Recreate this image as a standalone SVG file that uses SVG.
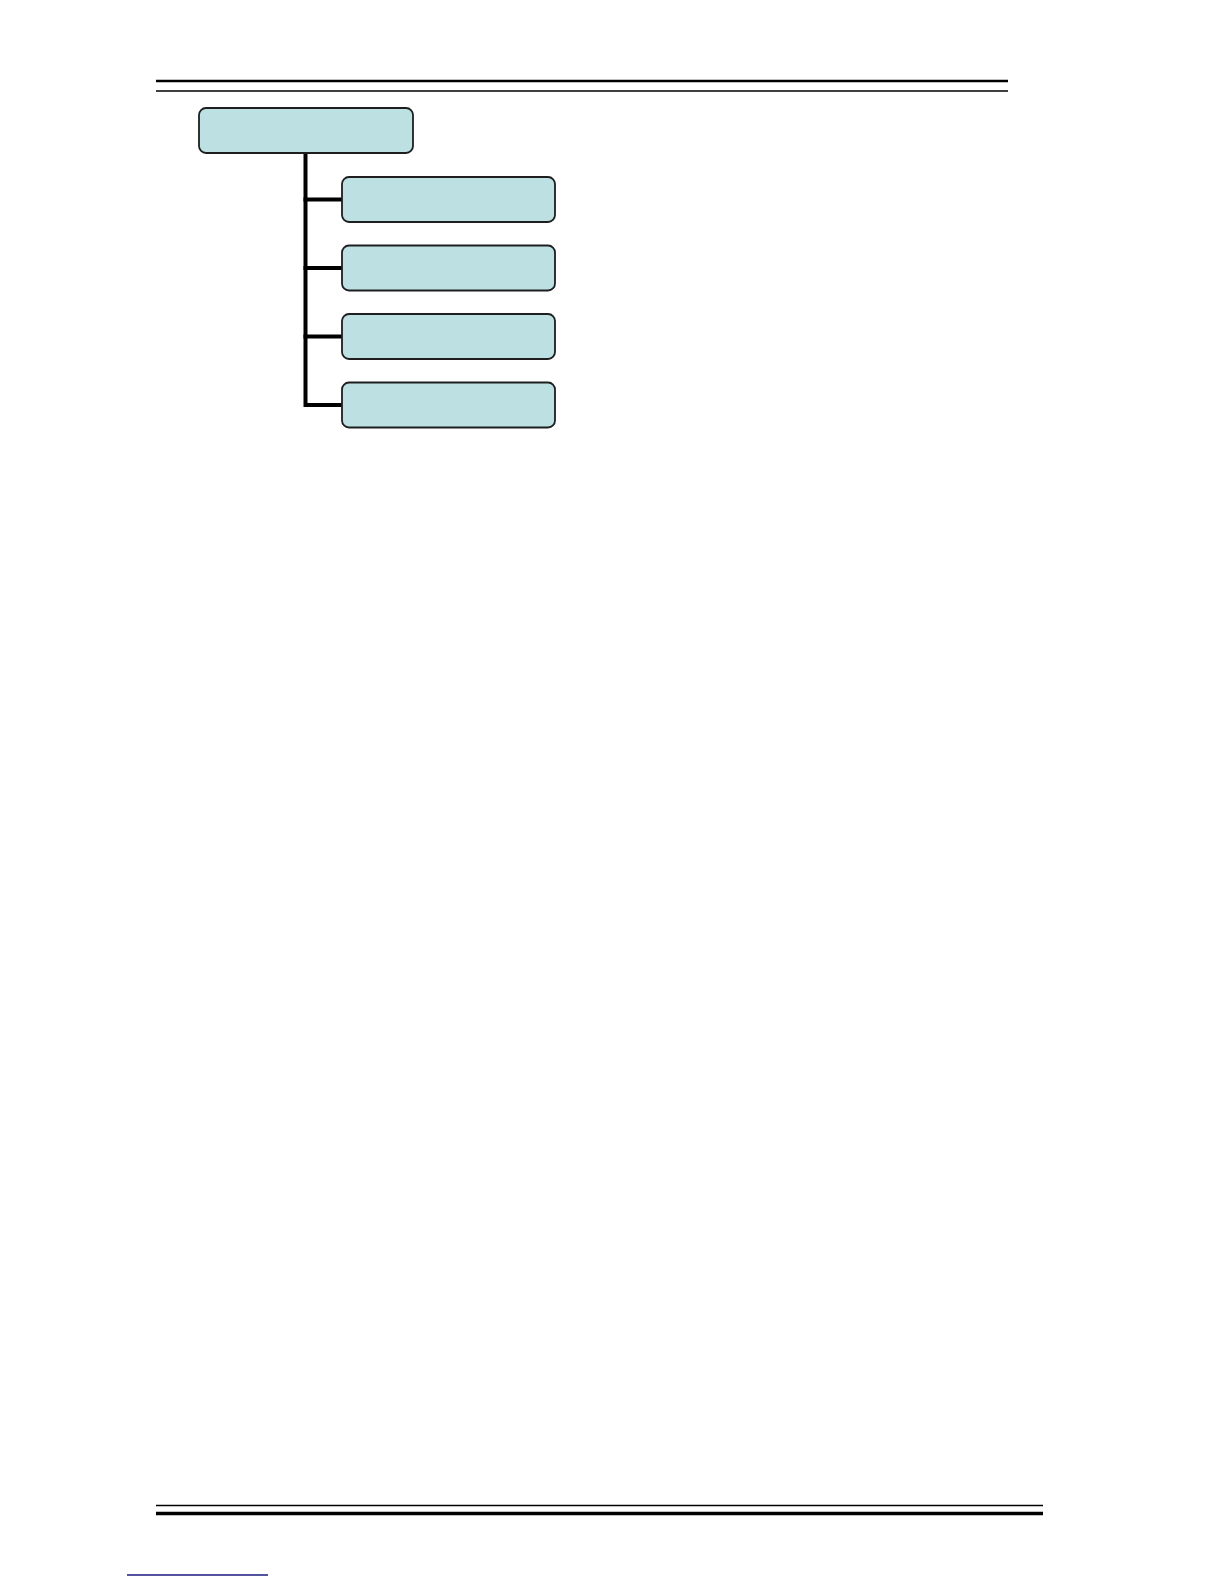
<svg xmlns="http://www.w3.org/2000/svg" width="1224" height="1584" viewBox="0 0 1224 1584">
<style>
.node{fill:#BDE1E3;stroke:#1e1e1e;stroke-width:1.8}
.conn{fill:none;stroke:#000;stroke-width:4;stroke-linejoin:miter}
.rule{stroke:#000}
</style>
<rect width="1224" height="1584" fill="#fff"/>
<g id="page-rules">
<line class="rule" x1="156" y1="81" x2="1008" y2="81" stroke-width="2.5"/>
<line class="rule" x1="156" y1="91" x2="1008" y2="91" stroke-width="1.5"/>
<line class="rule" x1="156" y1="1505.5" x2="1043" y2="1505.5" stroke-width="1.5"/>
<line class="rule" x1="156" y1="1513.5" x2="1043" y2="1513.5" stroke-width="3.5"/>
<line x1="127" y1="1575" x2="268" y2="1575" stroke="#1a1a80" stroke-width="1.5"/>
</g>
<g id="connectors">
<path class="conn" d="M305.5 153 V405 H342"/>
<path class="conn" d="M303.5 199.5 H342"/>
<path class="conn" d="M303.5 268 H342"/>
<path class="conn" d="M303.5 336.5 H342"/>
</g>
<g id="node-root"><rect class="node" x="199" y="108" width="214" height="45" rx="7"/></g>
<g id="node-1"><rect class="node" x="342" y="177" width="213" height="45" rx="7"/></g>
<g id="node-2"><rect class="node" x="342" y="245.5" width="213" height="45" rx="7"/></g>
<g id="node-3"><rect class="node" x="342" y="314" width="213" height="45" rx="7"/></g>
<g id="node-4"><rect class="node" x="342" y="382.5" width="213" height="45" rx="7"/></g>
</svg>
